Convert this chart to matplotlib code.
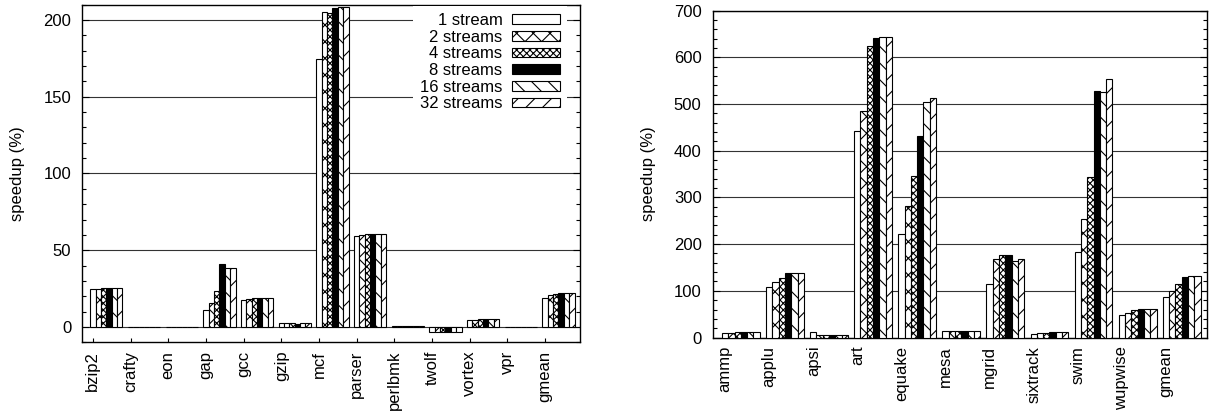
import matplotlib
matplotlib.use('Agg')
import matplotlib.pyplot as plt
import numpy as np
from matplotlib.ticker import MultipleLocator

plt.rcParams['font.family'] = ['Liberation Sans', 'DejaVu Sans']
plt.rcParams['hatch.linewidth'] = 0.8

FS = 12

series = ['1 stream', '2 streams', '4 streams', '8 streams', '16 streams', '32 streams']

# ---- SPECint (left panel) ----
int_bench = ['bzip2', 'crafty', 'eon', 'gap', 'gcc', 'gzip', 'mcf', 'parser',
             'perlbmk', 'twolf', 'vortex', 'vpr', 'gmean']
int_s1  = [24.5, 0.2, 0.1, 10.9, 17.8, 2.5, 174.5, 59.4, 0.8, -3.5, 4.5, 0.1, 18.7]
int_s2  = [25.0, 0.2, 0.1, 15.4, 18.4, 2.5, 205.0, 60.1, 0.8, -3.5, 4.5, 0.1, 20.6]
int_s4  = [25.5, 0.2, 0.1, 23.2, 18.9, 2.5, 204.8, 60.3, 0.8, -3.5, 5.0, 0.1, 21.3]
int_s8  = [25.5, 0.2, 0.1, 41.0, 18.9, 2.2, 208.0, 60.3, 0.8, -3.5, 5.5, 0.1, 22.2]
int_s16 = [25.5, 0.2, 0.1, 38.6, 19.1, 2.5, 208.7, 60.7, 0.8, -3.5, 5.5, 0.1, 22.4]
int_s32 = [25.5, 0.2, 0.1, 38.6, 19.1, 2.5, 208.7, 60.7, 0.8, -3.5, 5.5, 0.1, 22.4]

# ---- SPECfp (right panel) ----
fp_bench = ['ammp', 'applu', 'apsi', 'art', 'equake', 'mesa', 'mgrid', 'sixtrack',
            'swim', 'wupwise', 'gmean']
fp_s1  = [10.0, 108.4, 12.8, 442.7, 221.0, 15.0, 115.5, 7.8, 182.5, 49.2, 86.2]
fp_s2  = [10.0, 119.0, 5.5, 485.5, 282.3, 15.0, 169.0, 9.0, 254.5, 53.5, 99.0]
fp_s4  = [11.0, 127.6, 5.0, 624.5, 345.0, 15.0, 176.8, 9.5, 343.6, 59.9, 114.8]
fp_s8  = [11.0, 138.3, 4.5, 641.6, 432.0, 15.0, 176.8, 11.4, 528.0, 60.6, 129.0]
fp_s16 = [11.0, 139.0, 5.0, 643.0, 504.0, 15.0, 164.7, 12.0, 525.4, 61.3, 131.0]
fp_s32 = [11.0, 139.0, 5.0, 643.0, 512.6, 15.0, 168.3, 12.0, 554.6, 61.3, 132.6]

styles = [
    dict(facecolor='white', hatch=None),
    dict(facecolor='white', hatch='xx'),
    dict(facecolor='white', hatch='xxxxx'),
    dict(facecolor='black', hatch=None),
    dict(facecolor='white', hatch='\\\\'),
    dict(facecolor='white', hatch='//'),
]

fig = plt.figure(figsize=(12.14, 4.15), dpi=100)
ax1 = fig.add_axes([0.0678, 0.1752, 0.4100, 0.8135])
ax2 = fig.add_axes([0.5871, 0.1867, 0.4071, 0.7875])

W = 1.0 / 7


def draw(ax, bench, data, ylim, major, minor):
    x = np.arange(len(bench))
    handles = []
    for j, (vals, st) in enumerate(zip(data, styles)):
        b = ax.bar(x + j * W, vals, width=W, facecolor=st['facecolor'],
                   edgecolor='black', linewidth=0.8, hatch=st['hatch'],
                   zorder=3, label=series[j])
        handles.append(b)
    ax.set_xlim(-0.28, len(bench) - 1 + 0.93)
    ax.set_ylim(*ylim)
    ax.set_xticks(x)
    ax.set_xticklabels(bench, rotation=90, fontsize=FS, va='top', ha='center')
    ax.yaxis.set_major_locator(MultipleLocator(major))
    ax.yaxis.set_minor_locator(MultipleLocator(minor))
    ax.yaxis.grid(True, which='major', color='0.2', linewidth=0.8, zorder=0)
    ax.set_axisbelow(True)
    ax.tick_params(axis='y', which='both', direction='in', left=True, right=True,
                   labelsize=FS, pad=8)
    ax.tick_params(axis='y', which='major', length=5, width=0.8)
    ax.tick_params(axis='y', which='minor', length=2.7, width=0.8)
    ax.tick_params(axis='x', which='both', direction='in', bottom=True, top=False,
                   length=3.2, width=0.8, pad=6)
    for s in ax.spines.values():
        s.set_linewidth(1.0)
    ax.set_ylabel('speedup (%)', fontsize=FS, labelpad=13)
    return handles


h = draw(ax1, int_bench, [int_s1, int_s2, int_s4, int_s8, int_s16, int_s32],
         (-10, 210), 50, 10)
draw(ax2, fp_bench, [fp_s1, fp_s2, fp_s4, fp_s8, fp_s16, fp_s32],
     (0, 700), 100, 20)

leg = ax1.legend(handles=h, labels=series, loc='upper right',
                 bbox_to_anchor=(0.973, 0.995), borderaxespad=0, borderpad=0.4,
                 markerfirst=False, handlelength=2.85, handleheight=0.5,
                 handletextpad=0.6, labelspacing=0.1, fontsize=FS,
                 frameon=True, fancybox=False, framealpha=1,
                 facecolor='white', edgecolor='none')
leg.set_zorder(5)

fig.savefig('out.png', dpi=100)
